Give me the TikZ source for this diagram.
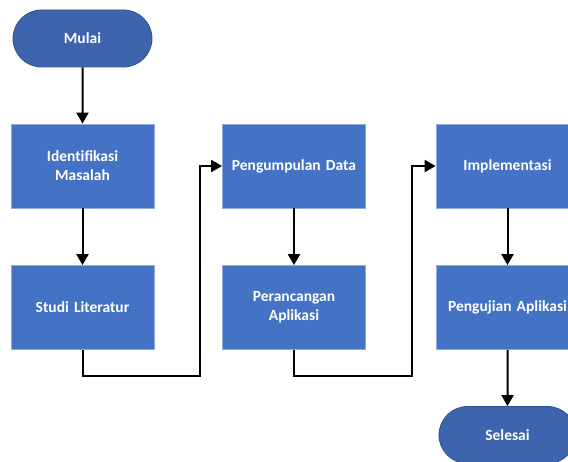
\documentclass[tikz,border=0pt]{standalone}
\usepackage{fontspec}
\setmainfont{Carlito}[Ligatures=NoCommon]
\usetikzlibrary{arrows.meta,shapes.misc}
\definecolor{boxblue}{HTML}{4472C4}
\definecolor{boxedge}{HTML}{8FAADC}
\definecolor{termblue}{HTML}{3D64AC}
\definecolor{termedge}{HTML}{2F528F}
\tikzset{
  procbox/.style={rectangle, fill=boxblue, draw=boxedge, line width=0.8pt,
    minimum width=141pt, minimum height=84pt, inner sep=2pt,
    text=white, font=\bfseries\fontsize{15.5}{19}\selectfont, align=center, text width=139pt},
  termbox/.style={rounded rectangle, fill=termblue, draw=termedge, line width=0.8pt,
    minimum width=143pt, minimum height=57pt, inner sep=2pt,
    text=white, font=\bfseries\fontsize{15.5}{19}\selectfont},
  flow/.style={line width=2pt, -{Triangle[length=11pt,width=12pt]}},
}
\begin{document}
\begin{tikzpicture}[x=1pt,y=-1pt]
\useasboundingbox (0,0) rectangle (568,462);
\clip (0,0) rectangle (568,462);
\node[termbox] (mulai) at (82.5,38.5) {Mulai};
\node[procbox] (ident) at (82.5,166) {Identifikasi\\Masalah};
\node[procbox] (studi) at (82.5,307.5) {Studi Literatur};
\node[procbox] (kumpul) at (294,166) {Pengumpulan Data};
\node[procbox] (rancang) at (294,307.5) {Perancangan\\Aplikasi};
\node[procbox] (impl) at (507.5,166) {Implementasi};
\node[procbox] (uji) at (507.5,307.5) {Pengujian Aplikasi};
\node[termbox, minimum width=141pt] (selesai) at (507.5,435) {Selesai};
\coordinate (c1) at (200,376);
\coordinate (c2) at (412,376);
\draw[flow] (mulai) -- (ident);
\draw[flow] (ident) -- (studi);
\draw[flow] (studi.south) |- (c1) |- (kumpul.west);
\draw[flow] (kumpul) -- (rancang);
\draw[flow] (rancang.south) |- (c2) |- (impl.west);
\draw[flow] (impl) -- (uji);
\draw[flow] (uji) -- (selesai);
\end{tikzpicture}
\end{document}
